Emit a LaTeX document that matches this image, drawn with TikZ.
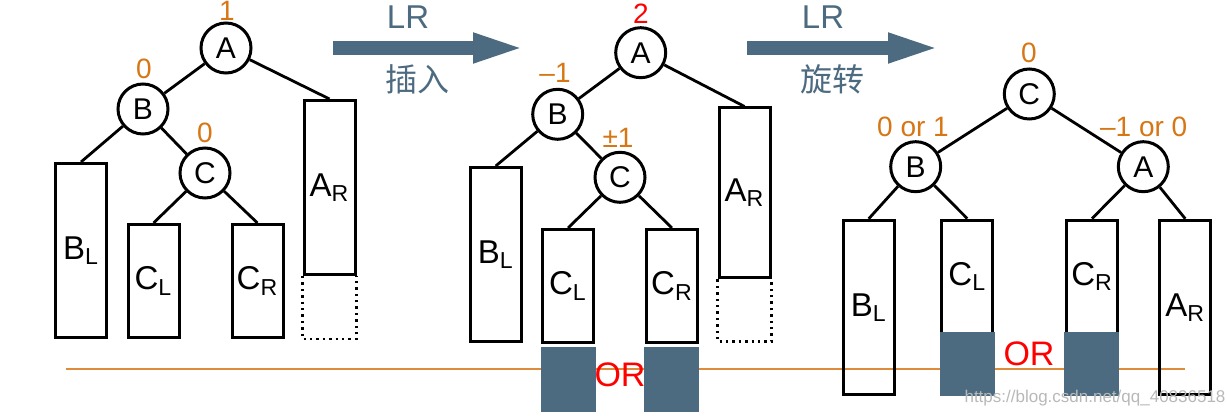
\documentclass[tikz,border=0pt]{standalone}
\usepackage{fontspec}
\setmainfont{Liberation Sans}
\newfontfamily\cjk{Noto Sans CJK SC}
\usetikzlibrary{arrows.meta}
\definecolor{slate}{RGB}{76,106,128}
\definecolor{bforange}{RGB}{214,118,20}
\definecolor{lineorange}{RGB}{222,140,60}
\tikzset{
  knot/.style={circle,draw,line width=1.5pt,minimum size=25pt,inner sep=0pt,font=\fontsize{15}{17}\selectfont},
  subtree/.style={draw,line width=1.5pt,minimum width=25.5pt,inner sep=0pt,font=\fontsize{16.5}{18}\selectfont},
  bf/.style={text=bforange,inner sep=0pt,font=\fontsize{14}{16}\selectfont},
  dark/.style={fill=slate,minimum width=27.5pt,minimum height=32.5pt,inner sep=0pt},
  link/.style={line width=1.4pt},
  bigarrow/.style={-{Triangle[length=27.5pt,width=13pt]},line width=7pt,slate},
  steplabel/.style={text=slate,inner sep=0pt},
  ortext/.style={text=red,inner sep=0pt,font=\fontsize{17}{19}\selectfont}
}
\begin{document}
\begin{tikzpicture}[x=0.5pt,y=-0.5pt]
\useasboundingbox (0,0) rectangle (1227,416);
% base line
\coordinate (base1) at (66,369);
\coordinate (base2) at (1185,369);
\draw[lineorange,line width=1pt] (base1) -- (base2);

% tree before insertion
\node[knot] (A1) at (226,48) {A};
\node[knot] (B1) at (143,109) {B};
\node[knot] (C1) at (205,173) {C};
\node[bf] (bfA1) at (227,11) {1};
\node[bf] (bfB1) at (144,69) {0};
\node[bf] (bfC1) at (205,133) {0};
\node[subtree,minimum height=87pt] (BL1) at (81,250.5) {B\textsubscript{L}};
\node[subtree,minimum height=56.5pt] (CL1) at (153.5,281) {C\textsubscript{L}};
\node[subtree,minimum height=56.5pt] (CR1) at (257.5,281) {C\textsubscript{R}};
\node[subtree,minimum height=87pt] (AR1) at (329.5,187.5) {A\textsubscript{R}};
\draw[dotted,line width=1.2pt] (AR1.south west) -- ++(0,63) -| (AR1.south east);
\draw[link] (A1) -- (B1);
\draw[link] (A1) -- (AR1.north);
\draw[link] (B1) -- (BL1.north);
\draw[link] (B1) -- (C1);
\draw[link] (C1) -- (CL1.north);
\draw[link] (C1) -- (CR1.north);

% first step
\coordinate (s1a) at (333,48);
\coordinate (s1b) at (528,48);
\draw[bigarrow] (s1a) -- (s1b);
\node[steplabel,font=\fontsize{16.5}{18}\selectfont] (LR1) at (408,17) {LR};
\node[steplabel,font=\cjk\fontsize{16}{18}\selectfont] (ins) at (417,79) {插入};

% tree after insertion
\node[knot] (A2) at (640.7,52.7) {A};
\node[knot] (B2) at (557.7,114.3) {B};
\node[knot] (C2) at (620,177.3) {C};
\node[bf,text=red] (bfA2) at (641,14) {2};
\node[bf] (bfB2) at (555,73) {–1};
\node[bf] (bfC2) at (618,138) {±1};
\node[subtree,minimum height=87pt] (BL2) at (495.7,254.5) {B\textsubscript{L}};
\node[subtree,minimum height=56.5pt] (CL2) at (568,286) {C\textsubscript{L}};
\node[subtree,minimum height=56.5pt] (CR2) at (672,286) {C\textsubscript{R}};
\node[subtree,minimum height=85pt] (AR2) at (744.5,193) {A\textsubscript{R}};
\draw[dotted,line width=1.2pt] (AR2.south west) -- ++(0,62) -| (AR2.south east);
\node[dark] (CLx2) at (568.2,379.5) {};
\node[dark] (CRx2) at (671.8,379.5) {};
\node[ortext] (OR2) at (620,375) {OR};
\draw[link] (A2) -- (B2);
\draw[link] (A2) -- (AR2.north);
\draw[link] (B2) -- (BL2.north);
\draw[link] (B2) -- (C2);
\draw[link] (C2) -- (CL2.north);
\draw[link] (C2) -- (CR2.north);

% second step
\coordinate (s2a) at (747,48);
\coordinate (s2b) at (943,48);
\draw[bigarrow] (s2a) -- (s2b);
\node[steplabel,font=\fontsize{16.5}{18}\selectfont] (LR2) at (823,17) {LR};
\node[steplabel,font=\cjk\fontsize{16}{18}\selectfont] (rot) at (832,79) {旋转};

% tree after rotation
\node[knot] (C3) at (1029.3,94) {C};
\node[knot] (B3) at (915.7,166.7) {B};
\node[knot] (A3) at (1143.3,166.7) {A};
\node[bf] (bfC3) at (1029,53) {0};
\node[bf] (bfB3) at (913,127) {0 or 1};
\node[bf] (bfA3) at (1143.7,127) {–1 or 0};
\node[subtree,minimum height=87pt] (BL3) at (868.7,307.3) {B\textsubscript{L}};
\node[subtree,minimum height=56.7pt] (CL3) at (967.3,276.8) {C\textsubscript{L}};
\node[subtree,minimum height=56.7pt] (CR3) at (1092,276.8) {C\textsubscript{R}};
\node[subtree,minimum height=87pt] (AR3) at (1185.3,307.3) {A\textsubscript{R}};
\node[dark,minimum height=32pt] (CLx3) at (967.5,364) {};
\node[dark,minimum height=32pt] (CRx3) at (1091.8,364) {};
\node[ortext] (OR3) at (1029,354) {OR};
\draw[link] (C3) -- (B3);
\draw[link] (C3) -- (A3);
\draw[link] (B3) -- (BL3.north);
\draw[link] (B3) -- (CL3.north);
\draw[link] (A3) -- (CR3.north);
\draw[link] (A3) -- (AR3.north);

\node[text=white!72!black,font=\fontsize{8.5}{10}\selectfont] (wm) at (1095,398) {https://blog.csdn.net/qq\_40836518};
\end{tikzpicture}
\end{document}
